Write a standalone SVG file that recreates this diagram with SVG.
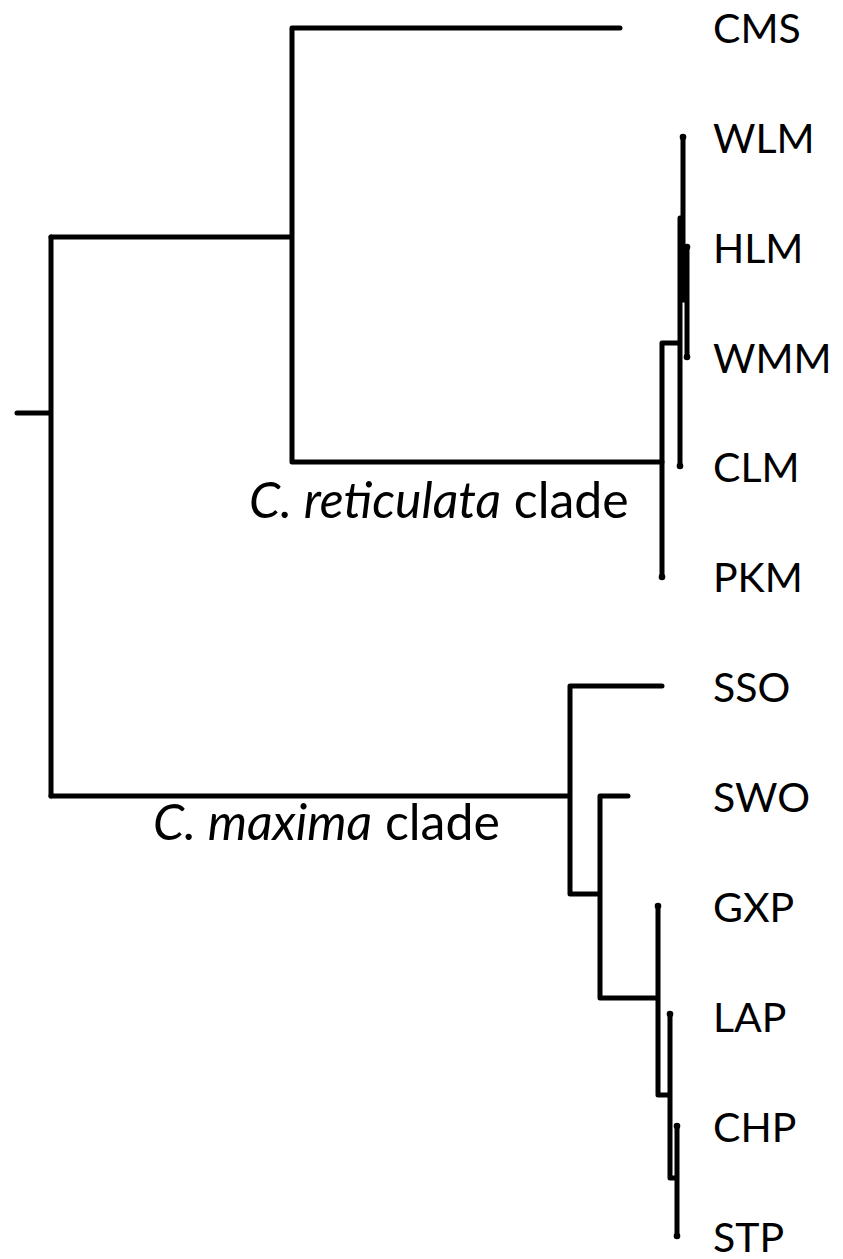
<svg xmlns="http://www.w3.org/2000/svg" width="843" height="1259" viewBox="0 0 843 1259">
<style>
.e{fill:none;stroke:#000;stroke-width:5;stroke-linecap:round;stroke-linejoin:round}
.t{font-family:Lato,"Open Sans","Liberation Sans",sans-serif;font-size:41px;fill:#000}
.c{font-family:Lato,"Open Sans","Liberation Sans",sans-serif;font-size:50px;fill:#000}
.d{fill:#000}
</style>
<rect width="843" height="1259" fill="#fff"/>
<g id="connectors" class="e">
<path d="M17 413H51M51 237V796"/>
<path d="M51 237H292M292 28V462M292 28H620M292 462H662"/>
<path d="M662 343V577M662 343H680M680 218V466M680 218H683M683 137V300M683 300H687M687 247V357"/>
<path d="M51 796H570M570 686V894M570 686H662M570 894H600M600 796V998M600 796H628M600 998H658M658 906V1095M658 1095H670M670 1014V1178M670 1178H677M677 1126V1236"/>
</g>
<g id="tip-dots" class="d">
<circle cx="683" cy="137" r="3.3"/><circle cx="687" cy="247" r="3.3"/><circle cx="687" cy="357" r="3.3"/><circle cx="680" cy="466" r="3.3"/><circle cx="662" cy="577" r="3.3"/>
<circle cx="658" cy="906" r="3.3"/><circle cx="670" cy="1014" r="3.3"/><circle cx="677" cy="1126" r="3.3"/><circle cx="677" cy="1236" r="3.3"/>
</g>
<g id="CMS"><text class="t" x="713" y="43">CMS</text></g>
<g id="WLM"><text class="t" x="713" y="153">WLM</text></g>
<g id="HLM"><text class="t" x="713" y="263">HLM</text></g>
<g id="WMM"><text class="t" x="713" y="373">WMM</text></g>
<g id="CLM"><text class="t" x="713" y="482">CLM</text></g>
<g id="PKM"><text class="t" x="713" y="592">PKM</text></g>
<g id="SSO"><text class="t" x="713" y="702">SSO</text></g>
<g id="SWO"><text class="t" x="713" y="812">SWO</text></g>
<g id="GXP"><text class="t" x="713" y="922">GXP</text></g>
<g id="LAP"><text class="t" x="713" y="1032">LAP</text></g>
<g id="CHP"><text class="t" x="713" y="1142">CHP</text></g>
<g id="STP"><text class="t" x="713" y="1252">STP</text></g>
<g id="reticulata-label"><text class="c" x="249" y="518"><tspan font-style="italic">C. reticulata</tspan> clade</text></g>
<g id="maxima-label"><text class="c" x="153" y="840"><tspan font-style="italic">C. maxima</tspan> clade</text></g>
</svg>
